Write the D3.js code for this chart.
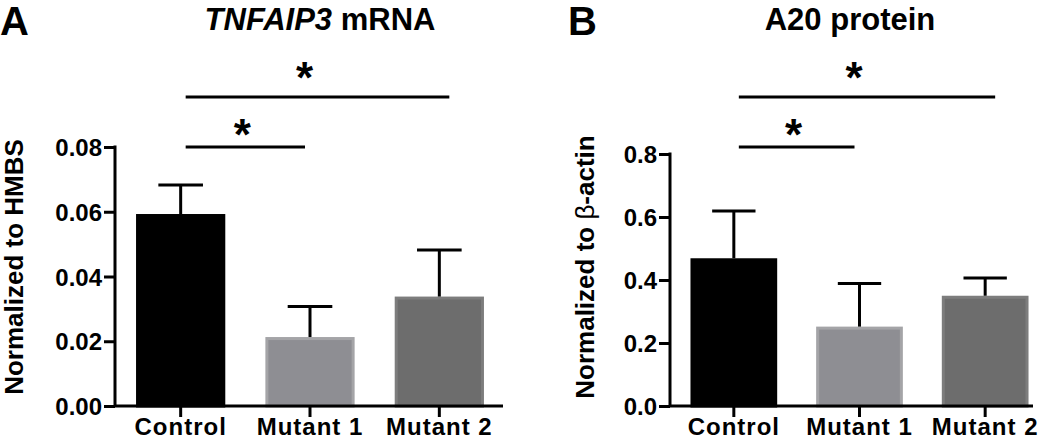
<!DOCTYPE html>
<html>
<head>
<meta charset="utf-8">
<script src="https://cdn.jsdelivr.net/npm/d3@7"></script>
<style>
  html, body { margin: 0; padding: 0; background: #fff; }
  svg { display: block; }
  text { font-family: "Liberation Sans", Arial, Helvetica, sans-serif; font-weight: bold; fill: #000; }
</style>
</head>
<body>
<svg id="chart" width="1050" height="442"></svg>
<script>
// ---- data ----
const categories = ["Control", "Mutant 1", "Mutant 2"];
const mrnaMean = [0.0593, 0.0213, 0.0338];
const mrnaSem = [0.0090, 0.0094, 0.0144];
const mrnaTicks = [0.00, 0.02, 0.04, 0.06, 0.08];
const proteinMean = [0.469, 0.252, 0.350];
const proteinSem = [0.150, 0.137, 0.056];
const proteinTicks = [0.0, 0.2, 0.4, 0.6, 0.8];
const barFills = ["#000000", "#8e8e93", "#6d6d6d"];
const barStrokes = ["#000000", "#a4a4a7", "#7d7d7d"];
// significance comparisons: [from index, to index, level]
const mrnaSig = [[0, 1, 0], [0, 2, 1]];
const proteinSig = [[0, 1, 0], [0, 2, 1]];

const svg = d3.select("#chart");

function panel(opt) {
  const g = svg.append("g");
  const y = d3.scaleLinear().domain(opt.domain).range([406, opt.yTop]);
  const x = d3.scaleBand().domain(categories).range(opt.xRange)
    .paddingInner(opt.padIn).paddingOuter(opt.padIn / 2);
  const bw = x.bandwidth();

  // bars
  g.selectAll("rect.bar").data(opt.means).join("rect")
    .attr("class", "bar")
    .attr("x", (d, i) => x(categories[i]) + 1.5)
    .attr("width", bw - 3)
    .attr("y", d => y(d) + 1.5)
    .attr("height", d => y(0) - y(d) - 1.5)
    .attr("fill", (d, i) => barFills[i])
    .attr("stroke", (d, i) => barStrokes[i])
    .attr("stroke-width", 3);

  // error bars (upper only)
  const cx = i => x(categories[i]) + bw / 2;
  g.selectAll("line.stem").data(opt.means).join("line")
    .attr("x1", (d, i) => cx(i)).attr("x2", (d, i) => cx(i))
    .attr("y1", d => y(d)).attr("y2", (d, i) => y(d + opt.sems[i]))
    .attr("stroke", "#000").attr("stroke-width", 3);
  g.selectAll("line.cap").data(opt.means).join("line")
    .attr("x1", (d, i) => cx(i) - bw / 4).attr("x2", (d, i) => cx(i) + bw / 4)
    .attr("y1", (d, i) => y(d + opt.sems[i])).attr("y2", (d, i) => y(d + opt.sems[i]))
    .attr("stroke", "#000").attr("stroke-width", 3);

  // y axis
  const ya = g.append("g").attr("transform", `translate(${opt.axisX},0)`)
    .call(d3.axisLeft(y).tickValues(opt.ticks).tickFormat(opt.fmt).tickSize(11).tickSizeOuter(0).tickPadding(2));
  ya.select(".domain").attr("stroke-width", 3).attr("d", `M0,${opt.yTop - 1.5}V${y(0)}`);
  ya.selectAll(".tick line").attr("stroke-width", 3);
  ya.selectAll(".tick text").style("font-size", "24px").attr("dy", "0.36em");

  // x axis
  const xa = g.append("g").attr("transform", `translate(0,${y(0)})`)
    .call(d3.axisBottom(x).tickSize(11).tickSizeOuter(0).tickPadding(2));
  xa.select(".domain").attr("stroke-width", 3).attr("d", `M${opt.axisX},0H${opt.axisEnd}`);
  xa.selectAll(".tick line").attr("stroke-width", 3);
  xa.selectAll(".tick text").style("font-size", "24px").style("letter-spacing", "1px").attr("dy", "0.68em");

  // y label
  const yl = g.append("text")
    .attr("transform", `translate(${opt.ylabX},267) rotate(-90)`)
    .attr("text-anchor", "middle").style("font-size", "26px");
  opt.ylab(yl);

  // title
  const t = g.append("text").attr("x", opt.titleX).attr("y", 30)
    .attr("text-anchor", "middle").style("font-size", "31px");
  opt.title(t);

  // panel letter
  g.append("text").attr("x", opt.letterX).attr("y", 35).style("font-size", "40px").text(opt.letter);

  // significance bars
  const levels = [147, 97];
  opt.sig.forEach(([a, b, lev]) => {
    const x1 = cx(a) + 5, x2 = cx(b) + (lev ? 10 : -5);
    g.append("line").attr("x1", x1).attr("x2", x2)
      .attr("y1", levels[lev]).attr("y2", levels[lev])
      .attr("stroke", "#000").attr("stroke-width", 3);
    g.append("text").attr("x", (x1 + x2) / 2 - (lev ? 13 : 3)).attr("y", levels[lev] + (lev ? -4 : 3))
      .attr("text-anchor", "middle").style("font-size", "44px").text("*");
  });
}

panel({
  domain: [0, 0.08], yTop: 147, xRange: [116, 504], padIn: 0.31,
  axisX: 115, axisEnd: 503, means: mrnaMean, sems: mrnaSem, ticks: mrnaTicks,
  fmt: d3.format(".2f"), ylabX: 23, titleX: 320, letterX: 0, letter: "A",
  sig: mrnaSig,
  ylab: t => t.text("Normalized to HMBS"),
  title: t => { t.append("tspan").style("font-style", "italic").text("TNFAIP3"); t.append("tspan").text(" mRNA"); }
});

panel({
  domain: [0, 0.8], yTop: 154, xRange: [671, 1048], padIn: 0.31,
  axisX: 670, axisEnd: 1033, means: proteinMean, sems: proteinSem, ticks: proteinTicks,
  fmt: d3.format(".1f"), ylabX: 594, titleX: 850, letterX: 568, letter: "B",
  sig: proteinSig,
  ylab: t => { t.append("tspan").text("Normalized to "); t.append("tspan").style("font-weight", "normal").text("β"); t.append("tspan").text("-actin"); },
  title: t => t.text("A20 protein")
});
</script>
</body>
</html>
